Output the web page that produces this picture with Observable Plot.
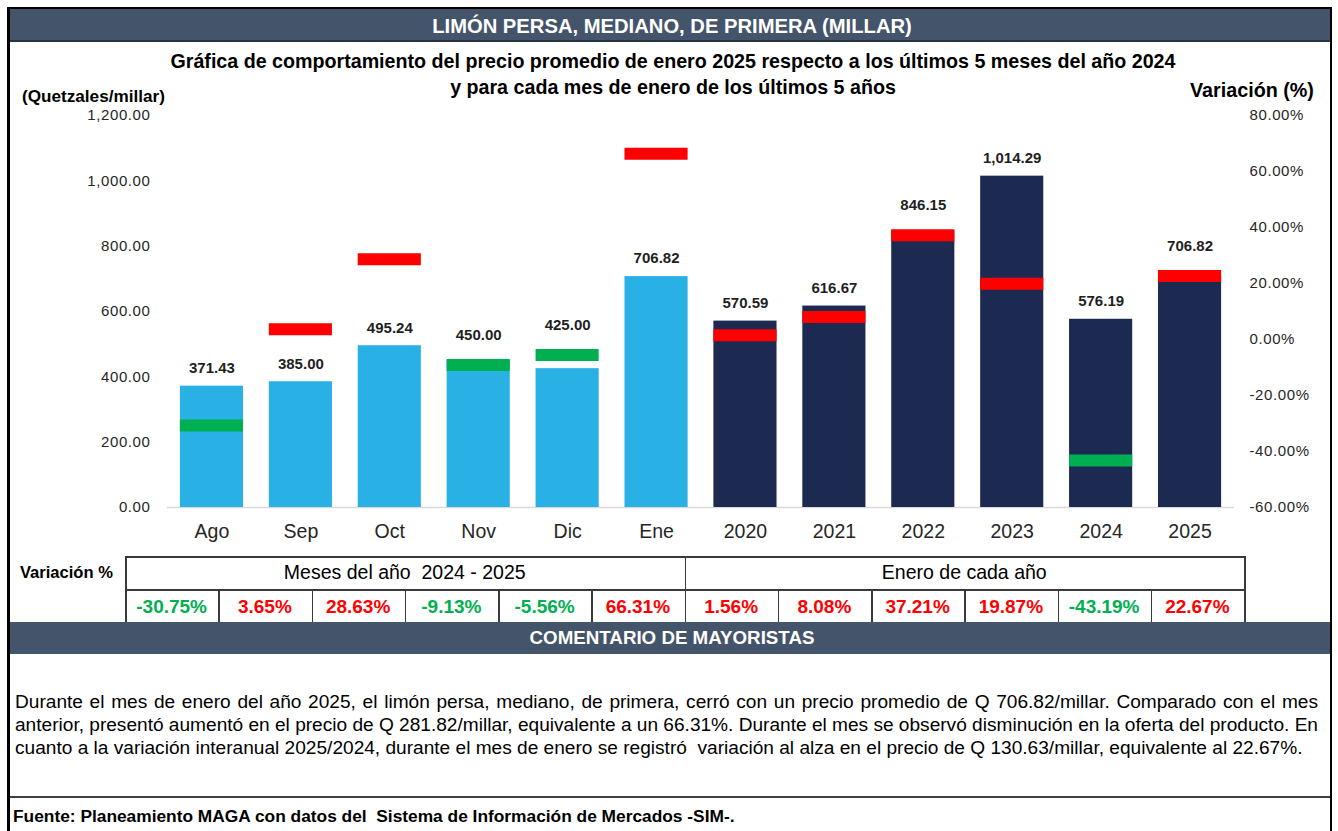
<!DOCTYPE html>
<html><head><meta charset="utf-8">
<script src="https://cdn.jsdelivr.net/npm/d3@7"></script>
<script src="https://cdn.jsdelivr.net/npm/@observablehq/plot@0.6"></script>
<style>
body{margin:0;background:#fff;font-family:"Liberation Sans",Arial,sans-serif;}
#page{position:relative;width:1338px;height:831px;overflow:hidden;background:#fff;}
.t{position:absolute;white-space:nowrap;line-height:1;}
.box{position:absolute;}
#chart{position:absolute;left:0;top:0;}
#chart svg{overflow:visible;}
#chart [aria-label="x-axis tick label"]{font-size:19.5px;}
#chart [aria-label="y-axis tick label"]{font-size:15px;letter-spacing:0.6px;}
</style></head><body><div id="page"><div id="chart"></div></div>
<script>
// ---------- data ----------
const categories = ["Ago","Sep","Oct","Nov","Dic","Ene","2020","2021","2022","2023","2024","2025"];
const prices = [371.43, 385.00, 495.24, 450.00, 425.00, 706.82, 570.59, 616.67, 846.15, 1014.29, 576.19, 706.82];
const variations = [-30.75, 3.65, 28.63, -9.13, -5.56, 66.31, 1.56, 8.08, 37.21, 19.87, -43.19, 22.67];
const groups = ["mes","mes","mes","mes","mes","mes","anio","anio","anio","anio","anio","anio"];
const leftTicks = [0, 200, 400, 600, 800, 1000, 1200];
const rightTicks = [-60, -40, -20, 0, 20, 40, 60, 80];
const headerTitle = "LIMÓN PERSA, MEDIANO, DE PRIMERA (MILLAR)";
const titleLines = ["Gráfica de comportamiento del precio promedio de enero 2025 respecto a los últimos 5 meses del año 2024",
                    "y para cada mes de enero de los últimos 5 años"];
const leftAxisTitle = "(Quetzales/millar)";
const rightAxisTitle = "Variación (%)";
const tableRowLabel = "Variación %";
const tableGroups = ["Meses del año  2024 - 2025", "Enero de cada año"];
const commentTitle = "COMENTARIO DE MAYORISTAS";
const commentLines = [
  "Durante el mes de enero del año 2025, el limón persa, mediano, de primera, cerró con un precio promedio de Q 706.82/millar. Comparado con el mes",
  "anterior, presentó aumentó en el precio de Q 281.82/millar, equivalente a un 66.31%. Durante el mes se observó disminución en la oferta del producto. En",
  "cuanto a la variación interanual 2025/2024, durante el mes de enero se registró  variación al alza en el precio de Q 130.63/millar, equivalente al 22.67%."
];
const source = "Fuente: Planeamiento MAGA con datos del  Sistema de Información de Mercados -SIM-.";

// ---------- colours ----------
const barColor = {mes: "#29B0E4", anio: "#1C2951"};
const UP = "#FF0000", DOWN = "#00B050";
const SLATE = "#44546A";

// ---------- chart ----------
const data = categories.map((c, i) => ({cat: c, price: prices[i], v: variations[i], g: groups[i]}));
const toP = v => (v + 60) * 1200 / 140; // map % axis onto price axis
const halfMarker = 6 * 1200 / 392;      // half of the 12px marker, in price units
const fmtPrice = d3.format(",.2f");
// label sits above the bar, or above the marker when the marker covers the bar top
const labelY = d => {
  const mTop = toP(d.v) + halfMarker;
  return (mTop > d.price && mTop - d.price < 100) ? mTop + halfMarker : d.price;
};

const plot = Plot.plot({
  width: 1338, height: 548,
  marginLeft: 167, marginRight: 104, marginTop: 115, marginBottom: 41,
  style: {fontFamily: '"Liberation Sans", Arial, sans-serif', background: "transparent", color: "#262626", overflow: "visible"},
  x: {type: "band", domain: categories, paddingInner: 0.29, paddingOuter: 0.145, round: false, label: null},
  y: {domain: [0, 1200], label: null},
  color: {type: "identity"},
  marks: [
    Plot.ruleY([0], {stroke: "#d9d9d9", strokeWidth: 1.5}),
    Plot.barY(data, {x: "cat", y: "price", fill: d => barColor[d.g]}),
    Plot.tickY(data, {x: "cat", y: d => toP(d.v), stroke: d => d.v >= 0 ? UP : DOWN, strokeWidth: 12}),
    Plot.text(data, {x: "cat", y: labelY, text: d => fmtPrice(d.price),
      dy: -18, fontWeight: "bold", fontSize: 15, fill: "#1f1f1f"}),
    Plot.axisX({tickSize: 0, tickPadding: 17, label: null}),
    Plot.axisY(leftTicks, {anchor: "left", tickSize: 0, tickPadding: 17, tickFormat: fmtPrice, label: null}),
    Plot.axisY(rightTicks.map(toP), {anchor: "right", tickSize: 0, tickPadding: 15, label: null,
      tickFormat: d => Math.round(d * 140 / 1200 - 60).toFixed(2) + "%"})
  ]
});
document.getElementById("chart").appendChild(plot);

// ---------- html furniture ----------
const page = document.getElementById("page");
function box(l, t, w, h, bg) {
  const e = document.createElement("div");
  e.className = "box";
  Object.assign(e.style, {left: l + "px", top: t + "px", width: w + "px", height: h + "px", background: bg});
  page.appendChild(e);
  return e;
}
function place(text, o) {
  const el = document.createElement("div");
  el.className = "t";
  el.textContent = text;
  el.style.fontSize = (o.size || 16) + "px";
  el.style.fontWeight = o.weight || "normal";
  el.style.color = o.color || "#000";
  if (o.pre) el.style.whiteSpace = "pre";
  page.appendChild(el);
  let fs = o.size || 16;
  if (o.target) {
    const w0 = el.getBoundingClientRect().width;
    fs = fs * o.target / w0;
    el.style.fontSize = fs + "px";
  }
  if (o.justify) {
    const w1 = el.getBoundingClientRect().width;
    const n = (text.match(/ /g) || []).length;
    el.style.wordSpacing = ((o.justify - w1) / n) + "px";
  }
  const w = el.getBoundingClientRect().width;
  el.style.top = (o.y - fs / 2) + "px";
  const a = o.anchor || "start";
  el.style.left = (a === "middle" ? o.x - w / 2 : a === "end" ? o.x - w : o.x) + "px";
  return fs;
}

// frame
box(7, 7, 1325, 2, "#000");
box(7, 7, 3, 824, "#000");
box(1330, 7, 2, 824, "#000");
// header bar
box(10, 9, 1320, 32, SLATE);
box(10, 40, 1320, 1.5, "#2a3342");
place(headerTitle, {x: 672, y: 26, anchor: "middle", target: 480, size: 17, weight: "bold", color: "#fff"});
// titles
const tfs = place(titleLines[0], {x: 673, y: 62, anchor: "middle", target: 1006, size: 17, weight: "bold"});
place(titleLines[1], {x: 673, y: 88, anchor: "middle", size: tfs, weight: "bold"});
place(leftAxisTitle, {x: 22, y: 97, target: 143, size: 16, weight: "bold"});
place(rightAxisTitle, {x: 1190, y: 91, target: 124, size: 18, weight: "bold"});

// table
const LINE = "#3a3a3a";
const tL = 125, tR = 1244, cw = (tR - tL) / 12;
box(tL, 556, tR - tL, 1.5, LINE);
box(tL, 589, tR - tL, 1.5, LINE);
box(tL, 556, 1.5, 66, LINE);
box(tR, 556, 1.5, 66, LINE);
box(tL + 6 * cw, 556, 1.5, 66, LINE);
for (let k = 1; k < 12; k++) if (k !== 6) box(tL + k * cw, 589, 1.5, 33, LINE);
place(tableRowLabel, {x: 20, y: 573, target: 93, size: 16, weight: "bold"});
place(tableGroups[0], {x: tL + 3 * cw, y: 573, anchor: "middle", target: 242, size: 18, pre: true});
place(tableGroups[1], {x: tL + 9 * cw, y: 573, anchor: "middle", target: 165, size: 18, pre: true});
variations.forEach((v, i) => {
  place(v.toFixed(2) + "%", {x: tL + (i + 0.5) * cw, y: 606, anchor: "middle", size: 19, weight: "bold", color: v >= 0 ? UP : DOWN});
});

// comment section
box(10, 622, 1320, 32, SLATE);
place(commentTitle, {x: 672, y: 638, anchor: "middle", target: 285, size: 16, weight: "bold", color: "#fff"});
const pfs = place(commentLines[2], {x: 15, y: 748, target: 1288, size: 16.5, pre: true});
place(commentLines[0], {x: 15, y: 702, size: pfs, justify: 1303});
place(commentLines[1], {x: 15, y: 725, size: pfs, justify: 1303});
box(10, 796, 1320, 2, "#404040");
place(source, {x: 13, y: 817, target: 722, size: 14, weight: "bold", pre: true});
</script></body></html>
